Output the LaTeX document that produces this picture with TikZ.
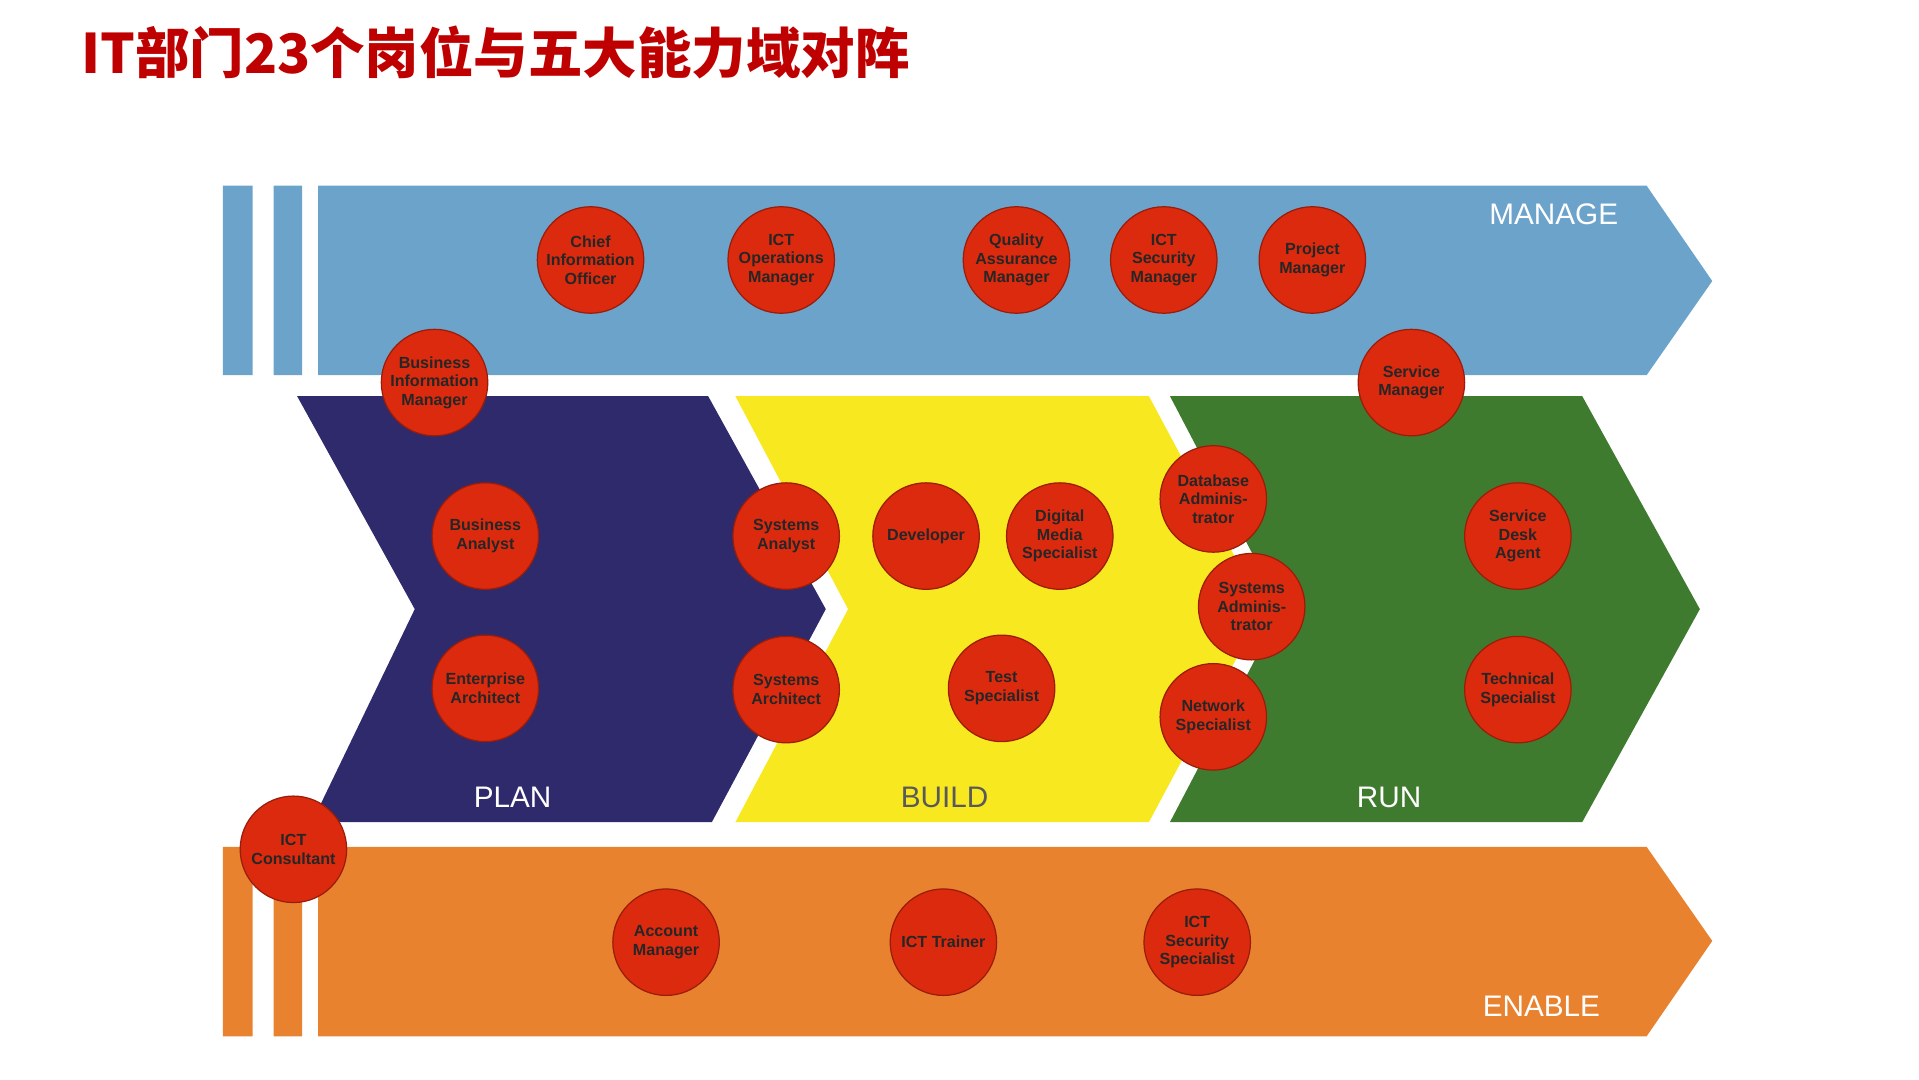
\documentclass[tikz,border=0pt]{standalone}
\usepackage{fontspec}
\setmainfont{Liberation Sans}
\newfontfamily\cjk{Noto Sans CJK SC}
\begin{document}
\begin{tikzpicture}[x=1pt,y=-1pt,
  role/.style={circle,fill=rolered,draw=rolered!70!black,line width=1pt,minimum size=86pt,inner sep=0pt,align=center,
    font=\bfseries\fontsize{13}{15}\selectfont,text=black!85},
  band/.style={font=\fontsize{24}{26}\selectfont}]
\definecolor{rolered}{HTML}{DC2A0E}
\definecolor{mblue}{HTML}{6CA3CB}
\definecolor{eorange}{HTML}{E9822F}
\definecolor{pnavy}{HTML}{2F2A6C}
\definecolor{byellow}{HTML}{F8E820}
\definecolor{rgreen}{HTML}{3F7B2E}
\useasboundingbox (0,0) rectangle (1550,872);
\node[anchor=west,text=red!75!black,font=\cjk\bfseries\fontsize{44}{50}\selectfont] (title) at (62,42) {IT部门23个岗位与五大能力域对阵};
% manage
\fill[mblue] (180,150) rectangle (204,303) (221,150) rectangle (244,303);
\fill[mblue] (257,150) -- (1330,150) -- (1383,227) -- (1330,303) -- (257,303) -- cycle;
% enable
\fill[eorange] (180,684) rectangle (204,837) (221,684) rectangle (244,837);
\fill[eorange] (257,684) -- (1330,684) -- (1383,760) -- (1330,837) -- (257,837) -- cycle;
% chevrons
\fill[pnavy] (240,320) -- (572,320) -- (667,492) -- (575,664) -- (252,664) -- (335,492) -- cycle;
\fill[byellow] (594,320) -- (928,320) -- (1020,492) -- (928,664) -- (594,664) -- (685,492) -- cycle;
\fill[rgreen] (945,320) -- (1278,320) -- (1373,492) -- (1278,664) -- (945,664) -- (1035,492) -- cycle;
\node[band,text=white] (lplan) at (414,644) {PLAN};
\node[band,text=black!65] (lbuild) at (763,644) {BUILD};
\node[band,text=white] (lrun) at (1122,644) {RUN};
\node[band,text=white] (lmanage) at (1255,173) {MANAGE};
\node[band,text=white] (lenable) at (1245,813) {ENABLE};
% roles
\node[role] (cio) at (477,210) {Chief\\Information\\Officer};
\node[role] (iom) at (631,210) {ICT\\Operations\\Manager};
\node[role] (qam) at (821,210) {Quality\\Assurance\\Manager};
\node[role] (ism) at (940,210) {ICT\\Security\\Manager};
\node[role] (pm) at (1060,210) {Project\\Manager};
\node[role] (bim) at (351,309) {Business\\Information\\Manager};
\node[role] (sm) at (1140,309) {Service\\Manager};
\node[role] (ba) at (392,433) {Business\\Analyst};
\node[role] (ea) at (392,556) {Enterprise\\Architect};
\node[role] (sa) at (635,433) {Systems\\Analyst};
\node[role] (dev) at (748,433) {Developer};
\node[role] (dms) at (856,433) {Digital\\Media\\Specialist};
\node[role] (sar) at (635,557) {Systems\\Architect};
\node[role] (ts) at (809,556) {Test\\Specialist};
\node[role] (dba) at (980,403) {Database\\Adminis-\\trator};
\node[role] (sad) at (1011,490) {Systems\\Adminis-\\trator};
\node[role] (ns) at (980,579) {Network\\Specialist};
\node[role] (sda) at (1226,433) {Service\\Desk\\Agent};
\node[role] (tsp) at (1226,557) {Technical\\Specialist};
\node[role] (ictc) at (237,686) {ICT\\Consultant};
\node[role] (am) at (538,761) {Account\\Manager};
\node[role] (ict) at (762,761) {ICT Trainer};
\node[role] (iss) at (967,761) {ICT\\Security\\Specialist};
\end{tikzpicture}
\end{document}
